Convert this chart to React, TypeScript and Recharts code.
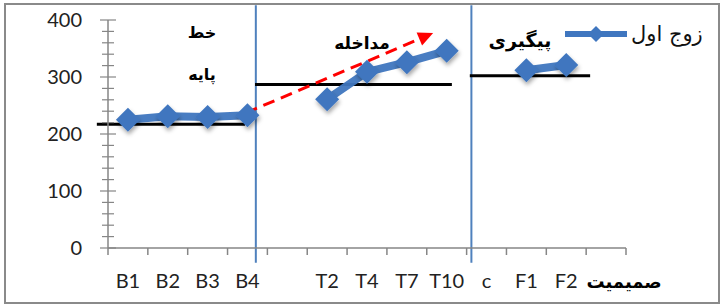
import React from 'react';
import { LineChart, Line, XAxis, YAxis, ReferenceLine, Legend } from 'recharts';

// ---- data ----
const categories = ['B1', 'B2', 'B3', 'B4', '', 'T2', 'T4', 'T7', 'T10', 'c', 'F1', 'F2', ''];
const coupleOne: (number | null)[] = [225, 231, 230, 233, null, 261, 309, 326, 346, null, 312, 321, null];
const seriesName = 'زوج اول';
const xAxisTitle = 'صمیمیت';
const yTickValues = [0, 20, 40, 60, 80, 100, 120, 140, 160, 180, 200, 220, 240, 260, 280, 300, 320, 340, 360, 380, 400];
const yLabelValues = [0, 100, 200, 300, 400];
const phaseTitles = ['خط', 'پایه', 'مداخله', 'پیگیری'];
// phase dividers and phase means in category units / value units
const phaseDividers = [3.71, 9.12];
const phaseMeans = [
  { from: -0.28, to: 3.44, value: 217 },
  { from: 3.69, to: 8.63, value: 287 },
  { from: 9.08, to: 12.1, value: 302 },
];
const trendArrow = { x1: 3.46, y1: 237, x2: 8.16, y2: 377 };

const chartData = categories.map((c, i) => ({ x: i + 0.5, label: c, value: coupleOne[i] }));
const xTickValues: number[] = [];
for (let i = 0; i <= categories.length; i++) {
  xTickValues.push(i);
  if (i < categories.length) xTickValues.push(i + 0.5);
}

const BLUE = '#3F76BF';
const AXIS = '#868686';
const LATIN = 'Lato, "Open Sans", sans-serif';
const PERSIAN = '"DejaVu Sans", sans-serif';

const XTick = (props: any) => {
  const { x, y, payload } = props;
  const v = payload.value as number;
  if (Number.isInteger(v)) {
    return <line x1={x} y1={y} x2={x} y2={y + 7} stroke={AXIS} strokeWidth={1.5} />;
  }
  const idx = Math.floor(v);
  if (idx === categories.length - 1) {
    return (
      <text x={x + 18} y={y + 40} textAnchor="middle" fontFamily={PERSIAN} fontWeight="bold" fontSize={18} fill="#000">
        {xAxisTitle}
      </text>
    );
  }
  return (
    <text x={x} y={y + 40} textAnchor="middle" fontFamily={LATIN} fontSize={20} fill="#222">
      {categories[idx]}
    </text>
  );
};

const YTick = (props: any) => {
  const { x, y, payload } = props;
  const v = payload.value as number;
  const major = yLabelValues.includes(v);
  return (
    <g>
      <line x1={x - (major ? 8 : 6)} y1={y} x2={x + (major ? 8 : 6)} y2={y} stroke={AXIS} strokeWidth={1.2} />
      {major && (
        <text x={x - 26} y={y + 7} textAnchor="end" fontFamily={LATIN} fontSize={20} fill="#222">
          {v}
        </text>
      )}
    </g>
  );
};

const Diamond = (props: any) => {
  const { cx, cy, payload } = props;
  if (payload == null || payload.value == null || cx == null || cy == null) return null;
  const r = 12;
  return (
    <polygon
      key={`d-${cx}`}
      points={`${cx},${cy - r} ${cx + r},${cy} ${cx},${cy + r} ${cx - r},${cy}`}
      fill={BLUE}
      filter="url(#softShadow)"
    />
  );
};

const ArrowShape = (props: any) => {
  const { x1, y1, x2, y2 } = props;
  if ([x1, y1, x2, y2].some((v) => v == null || Number.isNaN(v))) return null;
  const ang = Math.atan2(y2 - y1, x2 - x1);
  const len = 15;
  const w = 7;
  const bx = x2 - len * Math.cos(ang);
  const by = y2 - len * Math.sin(ang);
  const px = -Math.sin(ang);
  const py = Math.cos(ang);
  return (
    <g>
      <line x1={x1} y1={y1} x2={bx} y2={by} stroke="#FF0000" strokeWidth={3} strokeDasharray="12 7" />
      <polygon points={`${x2},${y2} ${bx + px * w},${by + py * w} ${bx - px * w},${by - py * w}`} fill="#FF0000" />
    </g>
  );
};

const renderLegend = (props: any) => {
  const item = props.payload && props.payload[0];
  return (
    <div style={{ display: 'flex', alignItems: 'center', direction: 'ltr' }}>
      <svg width={62} height={22}>
        <line x1={0} y1={11} x2={62} y2={11} stroke={BLUE} strokeWidth={6} />
        <polygon points="31,3 39,11 31,19 23,11" fill={BLUE} />
      </svg>
      <span style={{ fontFamily: PERSIAN, fontSize: 21, color: '#111', marginLeft: 4, whiteSpace: 'nowrap' }}>
        {item ? item.value : seriesName}
      </span>
    </div>
  );
};

const annot = (text: string, cx: number, cy: number, size: number) => (
  <div
    style={{
      position: 'absolute',
      left: cx,
      top: cy,
      transform: 'translate(-50%, -50%)',
      fontFamily: PERSIAN,
      fontWeight: 'bold',
      fontSize: size,
      color: '#000',
      whiteSpace: 'nowrap',
      lineHeight: 1,
    }}
  >
    {text}
  </div>
);

export default function App() {
  return (
    <div style={{ position: 'absolute', left: 0, top: 0, width: 724, height: 306, background: '#fff' }}>
      <svg width={0} height={0} style={{ position: 'absolute' }}>
        <defs>
          <filter id="softShadow" x="-50%" y="-50%" width="200%" height="200%">
            <feDropShadow dx="1" dy="3" stdDeviation="2" floodColor="#000" floodOpacity="0.35" />
          </filter>
        </defs>
      </svg>
      <div
        style={{
          position: 'absolute',
          left: 4,
          top: 3,
          width: 716,
          height: 301,
          border: '2px solid #8a8a8a',
          boxSizing: 'border-box',
        }}
      />
      <div style={{ position: 'absolute', left: 0, top: 0 }}>
        <LineChart width={724} height={306} data={chartData} margin={{ top: 20, right: 98, bottom: 28, left: 48 }}>
          <YAxis
            type="number"
            width={60}
            domain={[0, 400]}
            ticks={yTickValues}
            interval={0}
            tickSize={0}
            tickMargin={0}
            tickLine={false}
            axisLine={{ stroke: AXIS, strokeWidth: 1.5 }}
            tick={<YTick />}
          />
          <XAxis
            dataKey="x"
            type="number"
            domain={[0, categories.length]}
            ticks={xTickValues}
            interval={0}
            height={30}
            tickSize={0}
            tickMargin={0}
            tickLine={false}
            axisLine={{ stroke: AXIS, strokeWidth: 1.5 }}
            tick={<XTick />}
          />
          {phaseDividers.map((d, i) => (
            <ReferenceLine
              key={`div-${i}`}
              segment={[
                { x: d, y: -26 },
                { x: d, y: 426 },
              ]}
              stroke="#4F81BD"
              strokeWidth={2}
              ifOverflow="visible"
            />
          ))}
          {phaseMeans.map((m, i) => (
            <ReferenceLine
              key={`mean-${i}`}
              segment={[
                { x: m.from, y: m.value },
                { x: m.to, y: m.value },
              ]}
              stroke="#000"
              strokeWidth={3}
              ifOverflow="visible"
            />
          ))}
          <Line
            type="linear"
            dataKey="value"
            name={seriesName}
            stroke={BLUE}
            strokeWidth={8}
            strokeOpacity={0.95}
            dot={<Diamond />}
            activeDot={false}
            connectNulls={false}
            isAnimationActive={false}
          />
          <ReferenceLine
            segment={[
              { x: trendArrow.x1, y: trendArrow.y1 },
              { x: trendArrow.x2, y: trendArrow.y2 },
            ]}
            ifOverflow="visible"
            shape={<ArrowShape />}
          />
          <Legend
            layout="vertical"
            align="center"
            verticalAlign="middle"
            content={renderLegend}
            wrapperStyle={{ left: 565, top: 22, width: 155, height: 24 }}
          />
        </LineChart>
      </div>
      {annot(phaseTitles[0], 202, 33, 16)}
      {annot(phaseTitles[1], 202, 75, 16)}
      {annot(phaseTitles[2], 362, 43, 17)}
      {annot(phaseTitles[3], 520, 40, 19)}
    </div>
  );
}
